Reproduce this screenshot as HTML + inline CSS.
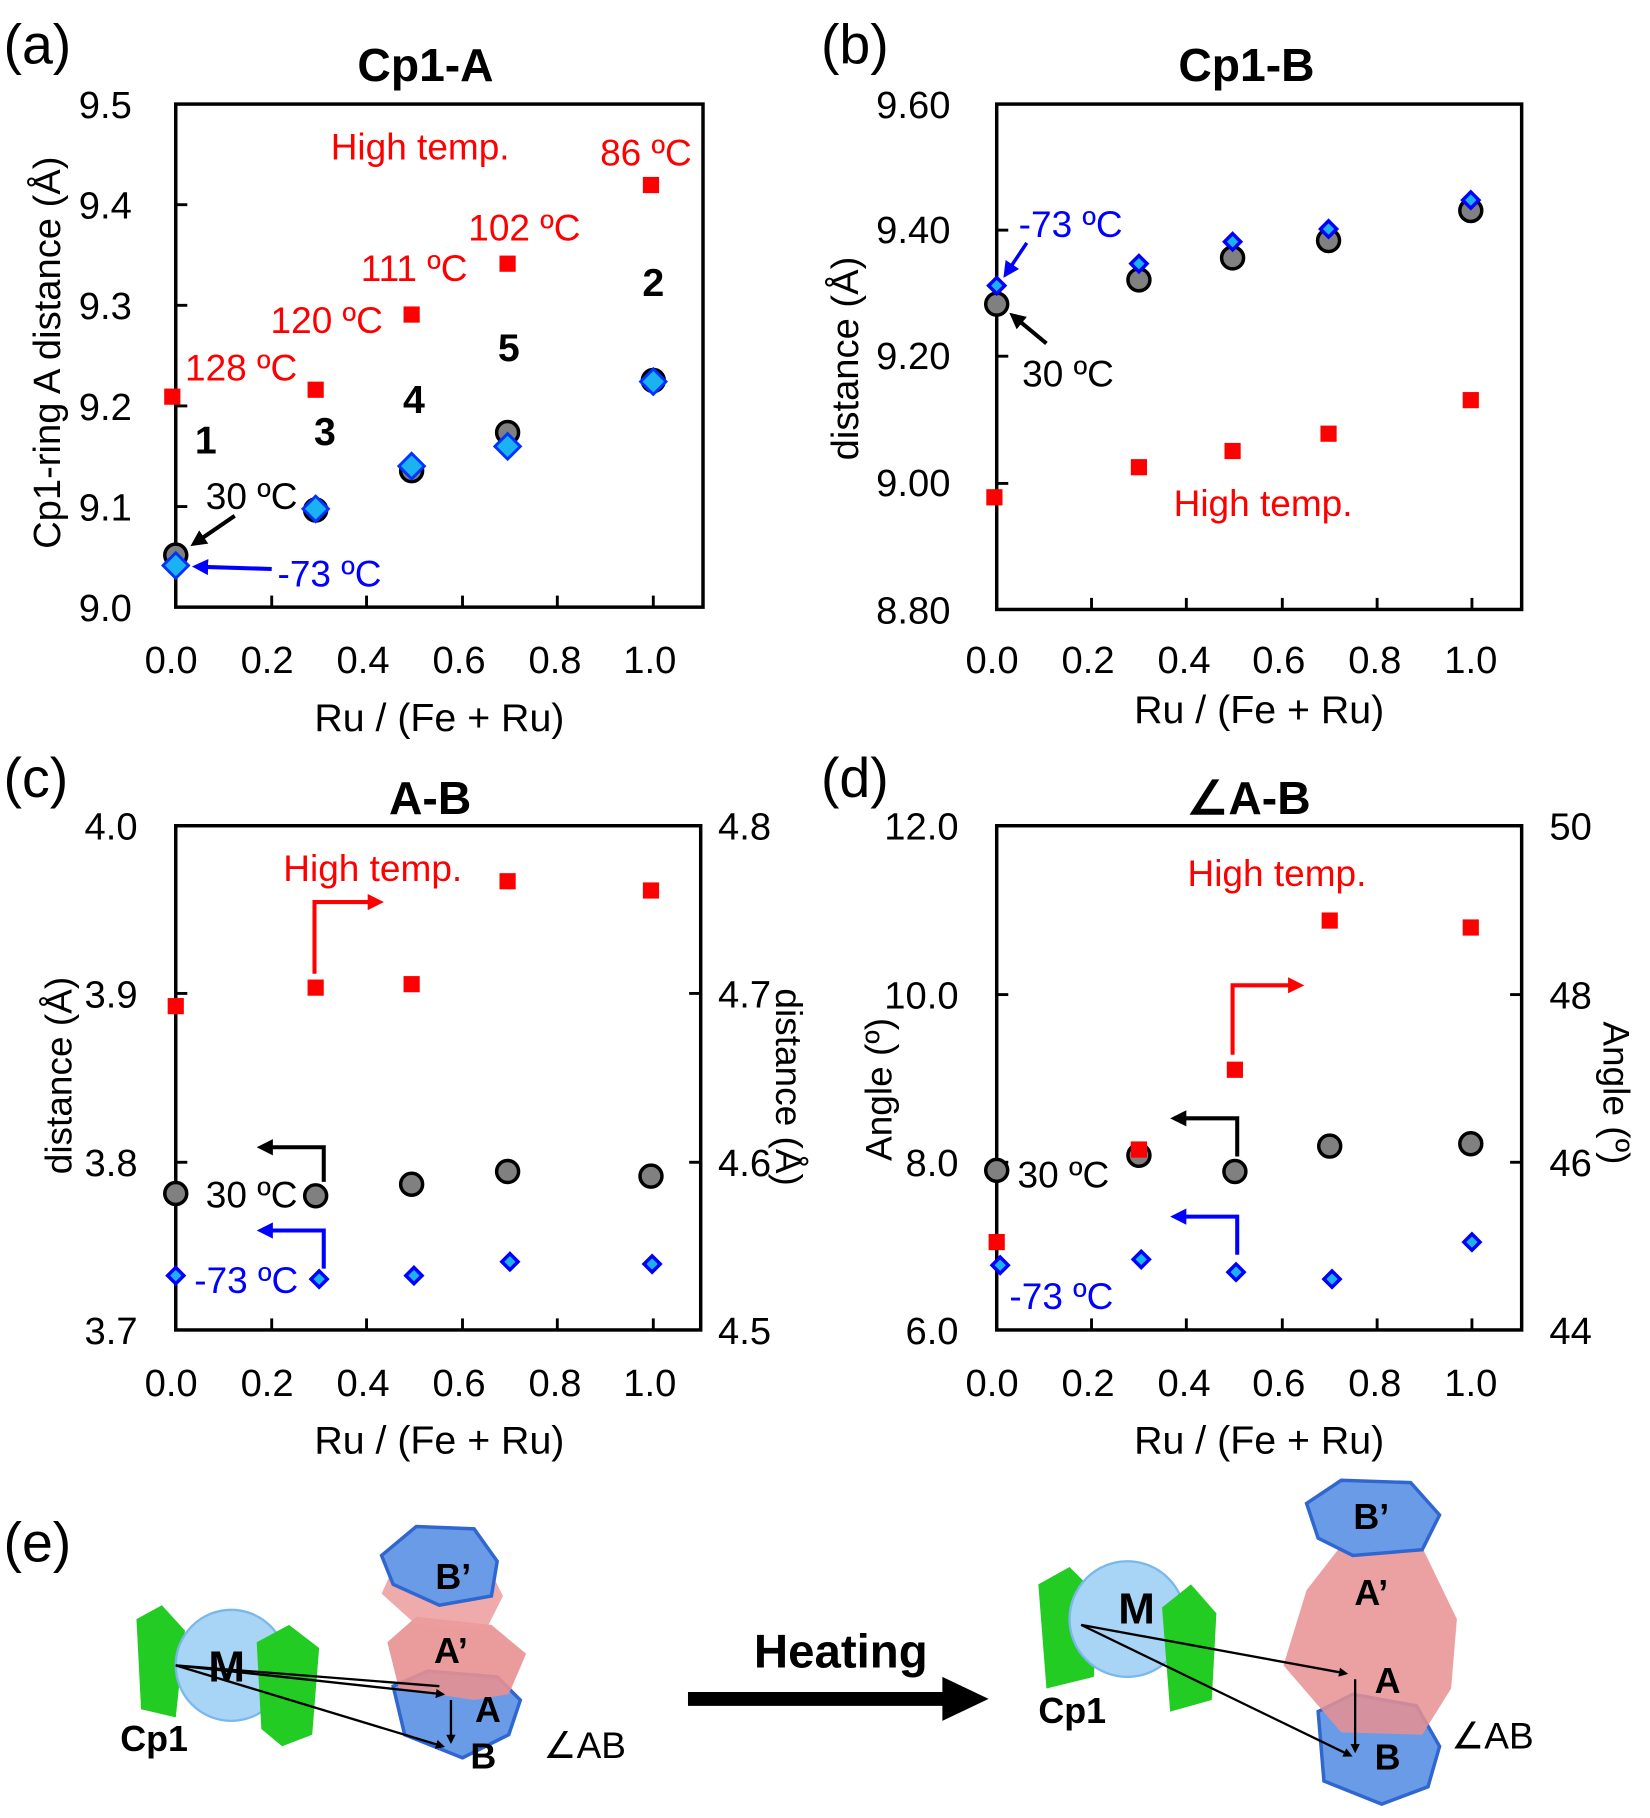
<!DOCTYPE html>
<html><head><meta charset="utf-8"><style>
html,body{margin:0;padding:0;background:#fff;}
svg{display:block;}
text{font-family:"Liberation Sans",Arial,sans-serif;}
</style></head><body>
<svg width="1650" height="1818" viewBox="0 0 1427 1572" preserveAspectRatio="none" xmlns="http://www.w3.org/2000/svg">
<defs>
<marker id="ak" markerWidth="8" markerHeight="8" refX="6" refY="4" orient="auto" markerUnits="userSpaceOnUse"><path d="M0,0 L8,4 L0,8 z" fill="#000"/></marker>
<marker id="ab" markerWidth="14" markerHeight="14" refX="10" refY="7" orient="auto" markerUnits="userSpaceOnUse"><path d="M0,0 L14,7 L0,14 z" fill="#0000ff"/></marker>
<marker id="abk" markerWidth="14" markerHeight="14" refX="10" refY="7" orient="auto" markerUnits="userSpaceOnUse"><path d="M0,0 L14,7 L0,14 z" fill="#000"/></marker>
<marker id="ar" markerWidth="14" markerHeight="14" refX="10" refY="7" orient="auto" markerUnits="userSpaceOnUse"><path d="M0,0 L14,7 L0,14 z" fill="#ff0000"/></marker>
<g id="sq"><rect x="-7" y="-7" width="14" height="14" fill="#ff0000"/></g>
<g id="ci"><circle r="9.5" fill="#808080" stroke="#000" stroke-width="3"/></g>
<g id="di"><path d="M0,-11 L11,0 L0,11 L-11,0 z" fill="#1ab2f0" stroke="#0033ff" stroke-width="2.5"/></g>
<g id="ds"><path d="M0,-7 L7,0 L0,7 L-7,0 z" fill="#1ab2f0" stroke="#0000ff" stroke-width="3"/></g>
</defs>

<!-- ===== Panel a ===== -->
<text x="3" y="55" font-size="48">(a)</text>
<text x="368" y="70" font-size="40" font-weight="bold" text-anchor="middle">Cp1-A</text>
<rect x="152" y="90" width="456" height="435" fill="none" stroke="#000" stroke-width="3"/>
<g stroke="#000" stroke-width="2.5">
<line x1="152" y1="177" x2="162" y2="177"/><line x1="152" y1="264" x2="162" y2="264"/><line x1="152" y1="351" x2="162" y2="351"/><line x1="152" y1="438" x2="162" y2="438"/>
<line x1="235" y1="525" x2="235" y2="515"/><line x1="317" y1="525" x2="317" y2="515"/><line x1="400" y1="525" x2="400" y2="515"/><line x1="482" y1="525" x2="482" y2="515"/><line x1="565" y1="525" x2="565" y2="515"/>
</g>
<g font-size="33" text-anchor="end">
<text x="114" y="102">9.5</text><text x="114" y="189">9.4</text><text x="114" y="276">9.3</text><text x="114" y="363">9.2</text><text x="114" y="450">9.1</text><text x="114" y="537">9.0</text>
</g>
<g font-size="33" text-anchor="middle">
<text x="148" y="582">0.0</text><text x="231" y="582">0.2</text><text x="314" y="582">0.4</text><text x="397" y="582">0.6</text><text x="480" y="582">0.8</text><text x="562" y="582">1.0</text>
</g>
<text x="380" y="632" font-size="34" text-anchor="middle">Ru / (Fe + Ru)</text>
<text transform="translate(52,305) rotate(-90)" font-size="33" text-anchor="middle">Cp1-ring A distance (Å)</text>
<use href="#sq" x="149" y="343"/><use href="#sq" x="273" y="337"/><use href="#sq" x="356" y="272"/><use href="#sq" x="439" y="228"/><use href="#sq" x="563" y="160"/>
<use href="#ci" x="152" y="480"/><use href="#ci" x="273" y="441"/><use href="#ci" x="356" y="407"/><use href="#ci" x="439" y="374"/><use href="#ci" x="565" y="329"/>
<use href="#di" x="152" y="489"/><use href="#di" x="273" y="440"/><use href="#di" x="356" y="403"/><use href="#di" x="439" y="386"/><use href="#di" x="565" y="330"/>
<g fill="#ff0000" font-size="32">
<text x="286" y="138">High temp.</text><text x="519" y="143">86 ºC</text><text x="405" y="208">102 ºC</text><text x="312" y="243">111 ºC</text><text x="234" y="288">120 ºC</text><text x="160" y="329">128 ºC</text>
</g>
<g font-size="34" font-weight="bold" text-anchor="middle">
<text x="178" y="392">1</text><text x="281" y="385">3</text><text x="358" y="357">4</text><text x="440" y="312">5</text><text x="565" y="256">2</text>
</g>
<text x="178" y="440" font-size="32">30 ºC</text>
<line x1="203" y1="446" x2="168" y2="470" stroke="#000" stroke-width="3.5" marker-end="url(#abk)"/>
<text x="240" y="507" font-size="32" fill="#0000ff">-73 ºC</text>
<line x1="235" y1="492" x2="170" y2="490" stroke="#0000ff" stroke-width="3.5" marker-end="url(#ab)"/>

<!-- ===== Panel b ===== -->
<text x="710" y="55" font-size="48">(b)</text>
<text x="1078" y="70" font-size="40" font-weight="bold" text-anchor="middle">Cp1-B</text>
<rect x="862" y="90" width="454" height="437" fill="none" stroke="#000" stroke-width="3"/>
<g stroke="#000" stroke-width="2.5">
<line x1="862" y1="199" x2="872" y2="199"/><line x1="862" y1="308" x2="872" y2="308"/><line x1="862" y1="418" x2="872" y2="418"/>
<line x1="944" y1="527" x2="944" y2="517"/><line x1="1026" y1="527" x2="1026" y2="517"/><line x1="1109" y1="527" x2="1109" y2="517"/><line x1="1191" y1="527" x2="1191" y2="517"/><line x1="1273" y1="527" x2="1273" y2="517"/>
</g>
<g font-size="33" text-anchor="end">
<text x="822" y="102">9.60</text><text x="822" y="210">9.40</text><text x="822" y="319">9.20</text><text x="822" y="429">9.00</text><text x="822" y="539">8.80</text>
</g>
<g font-size="33" text-anchor="middle">
<text x="858" y="582">0.0</text><text x="941" y="582">0.2</text><text x="1024" y="582">0.4</text><text x="1106" y="582">0.6</text><text x="1189" y="582">0.8</text><text x="1272" y="582">1.0</text>
</g>
<text x="1089" y="625" font-size="34" text-anchor="middle">Ru / (Fe + Ru)</text>
<text transform="translate(742,310) rotate(-90)" font-size="33" text-anchor="middle">distance (Å)</text>
<use href="#sq" x="860" y="430"/><use href="#sq" x="985" y="404"/><use href="#sq" x="1066" y="390"/><use href="#sq" x="1149" y="375"/><use href="#sq" x="1272" y="346"/>
<use href="#ci" x="862" y="263"/><use href="#ci" x="985" y="242"/><use href="#ci" x="1066" y="223"/><use href="#ci" x="1149" y="208"/><use href="#ci" x="1272" y="182"/>
<use href="#ds" x="862" y="247"/><use href="#ds" x="985" y="228"/><use href="#ds" x="1066" y="209"/><use href="#ds" x="1149" y="198"/><use href="#ds" x="1272" y="173"/>
<text x="881" y="205" font-size="32" fill="#0000ff">-73 ºC</text>
<line x1="888" y1="210" x2="870" y2="237" stroke="#0000ff" stroke-width="3" marker-end="url(#ab)"/>
<text x="884" y="334" font-size="32">30 ºC</text>
<line x1="905" y1="297" x2="876" y2="273" stroke="#000" stroke-width="3.5" marker-end="url(#abk)"/>
<text x="1015" y="446" font-size="32" fill="#ff0000">High temp.</text>

<!-- ===== Panel c ===== -->
<text x="3" y="689" font-size="48">(c)</text>
<text x="372" y="704" font-size="40" font-weight="bold" text-anchor="middle">A-B</text>
<rect x="152" y="714" width="454" height="436" fill="none" stroke="#000" stroke-width="3"/>
<g stroke="#000" stroke-width="2.5">
<line x1="152" y1="859" x2="162" y2="859"/><line x1="152" y1="1005" x2="162" y2="1005"/>
<line x1="606" y1="859" x2="596" y2="859"/><line x1="606" y1="1005" x2="596" y2="1005"/>
<line x1="235" y1="1150" x2="235" y2="1140"/><line x1="317" y1="1150" x2="317" y2="1140"/><line x1="400" y1="1150" x2="400" y2="1140"/><line x1="482" y1="1150" x2="482" y2="1140"/><line x1="565" y1="1150" x2="565" y2="1140"/>
</g>
<g font-size="33" text-anchor="end">
<text x="119" y="726">4.0</text><text x="119" y="871">3.9</text><text x="119" y="1017">3.8</text><text x="119" y="1162">3.7</text>
</g>
<g font-size="33">
<text x="621" y="726">4.8</text><text x="621" y="871">4.7</text><text x="621" y="1017">4.6</text><text x="621" y="1162">4.5</text>
</g>
<g font-size="33" text-anchor="middle">
<text x="148" y="1207">0.0</text><text x="231" y="1207">0.2</text><text x="314" y="1207">0.4</text><text x="397" y="1207">0.6</text><text x="480" y="1207">0.8</text><text x="562" y="1207">1.0</text>
</g>
<text x="380" y="1257" font-size="34" text-anchor="middle">Ru / (Fe + Ru)</text>
<text transform="translate(62,930) rotate(-90)" font-size="32" text-anchor="middle">distance (Å)</text>
<text transform="translate(671,940) rotate(90)" font-size="32" text-anchor="middle">distance (Å)</text>
<use href="#sq" x="152" y="870"/><use href="#sq" x="273" y="854"/><use href="#sq" x="356" y="851"/><use href="#sq" x="439" y="762"/><use href="#sq" x="563" y="770"/>
<use href="#ci" x="152" y="1032"/><use href="#ci" x="273" y="1034"/><use href="#ci" x="356" y="1024"/><use href="#ci" x="439" y="1013"/><use href="#ci" x="563" y="1017"/>
<use href="#ds" x="152" y="1103"/><use href="#ds" x="276" y="1106"/><use href="#ds" x="358" y="1103"/><use href="#ds" x="441" y="1091"/><use href="#ds" x="564" y="1093"/>
<text x="245" y="762" font-size="32" fill="#ff0000">High temp.</text>
<polyline points="272,842 272,780 328,780" fill="none" stroke="#ff0000" stroke-width="3.5" marker-end="url(#ar)"/>
<text x="178" y="1044" font-size="32">30 ºC</text>
<polyline points="280,1022 280,992 226,992" fill="none" stroke="#000" stroke-width="3.5" marker-end="url(#abk)"/>
<text x="168" y="1118" font-size="32" fill="#0000ff">-73 ºC</text>
<polyline points="280,1097 280,1064 226,1064" fill="none" stroke="#0000ff" stroke-width="3.5" marker-end="url(#ab)"/>

<!-- ===== Panel d ===== -->
<text x="710" y="689" font-size="48">(d)</text>
<text x="1080" y="704" font-size="40" font-weight="bold" text-anchor="middle">∠A-B</text>
<rect x="862" y="714" width="454" height="436" fill="none" stroke="#000" stroke-width="3"/>
<g stroke="#000" stroke-width="2.5">
<line x1="862" y1="860" x2="872" y2="860"/><line x1="862" y1="1005" x2="872" y2="1005"/>
<line x1="1316" y1="860" x2="1306" y2="860"/><line x1="1316" y1="1005" x2="1306" y2="1005"/>
<line x1="944" y1="1150" x2="944" y2="1140"/><line x1="1026" y1="1150" x2="1026" y2="1140"/><line x1="1109" y1="1150" x2="1109" y2="1140"/><line x1="1191" y1="1150" x2="1191" y2="1140"/><line x1="1273" y1="1150" x2="1273" y2="1140"/>
</g>
<g font-size="33" text-anchor="end">
<text x="829" y="726">12.0</text><text x="829" y="872">10.0</text><text x="829" y="1017">8.0</text><text x="829" y="1162">6.0</text>
</g>
<g font-size="33">
<text x="1340" y="726">50</text><text x="1340" y="872">48</text><text x="1340" y="1017">46</text><text x="1340" y="1162">44</text>
</g>
<g font-size="33" text-anchor="middle">
<text x="858" y="1207">0.0</text><text x="941" y="1207">0.2</text><text x="1024" y="1207">0.4</text><text x="1106" y="1207">0.6</text><text x="1189" y="1207">0.8</text><text x="1272" y="1207">1.0</text>
</g>
<text x="1089" y="1257" font-size="34" text-anchor="middle">Ru / (Fe + Ru)</text>
<text transform="translate(771,942) rotate(-90)" font-size="32" text-anchor="middle">Angle (º)</text>
<text transform="translate(1387,945) rotate(90)" font-size="32" text-anchor="middle">Angle (º)</text>
<use href="#sq" x="862" y="1074"/><use href="#sq" x="985" y="994"/><use href="#sq" x="1068" y="925"/><use href="#sq" x="1150" y="796"/><use href="#sq" x="1272" y="802"/>
<use href="#ci" x="862" y="1012"/><use href="#ci" x="985" y="999"/><use href="#ci" x="1068" y="1013"/><use href="#ci" x="1150" y="991"/><use href="#ci" x="1272" y="989"/>
<use href="#sq" x="985" y="994"/>
<use href="#ds" x="865" y="1094"/><use href="#ds" x="987" y="1089"/><use href="#ds" x="1069" y="1100"/><use href="#ds" x="1152" y="1106"/><use href="#ds" x="1273" y="1074"/>
<text x="1027" y="766" font-size="32" fill="#ff0000">High temp.</text>
<polyline points="1066,912 1066,852 1124,852" fill="none" stroke="#ff0000" stroke-width="3.5" marker-end="url(#ar)"/>
<text x="880" y="1027" font-size="32">30 ºC</text>
<polyline points="1070,1000 1070,967 1016,967" fill="none" stroke="#000" stroke-width="3.5" marker-end="url(#abk)"/>
<text x="873" y="1132" font-size="32" fill="#0000ff">-73 ºC</text>
<polyline points="1070,1085 1070,1052 1016,1052" fill="none" stroke="#0000ff" stroke-width="3.5" marker-end="url(#ab)"/>

<!-- ===== Panel e ===== -->
<text x="3" y="1350" font-size="48">(e)</text>
<polygon points="118,1400 140,1388 160,1410 152,1485 122,1478" fill="#22cc22"/>
<circle cx="200" cy="1440" r="48" fill="#a8d4f5" stroke="#7ab8ec" stroke-width="2"/>
<polygon points="222,1420 250,1405 276,1425 270,1500 244,1510 226,1495" fill="#22cc22"/>
<text x="196" y="1454" font-size="38" font-weight="bold" text-anchor="middle">M</text>
<text x="104" y="1514" font-size="31" font-weight="bold">Cp1</text>
<polygon points="340,1458 370,1445 430,1450 450,1470 440,1500 400,1520 350,1500" fill="#6a9be6" stroke="#2f66d0" stroke-width="3"/>
<polygon points="335,1420 360,1398 425,1405 455,1430 440,1465 410,1470 345,1460" fill="#e89090" opacity="0.9"/>
<polygon points="330,1378 345,1345 385,1335 420,1350 435,1380 420,1410 360,1405" fill="#ec9c9c" opacity="0.85"/>
<polygon points="330,1345 360,1320 410,1322 430,1350 425,1380 380,1388 340,1370" fill="#6a9be6" stroke="#2f66d0" stroke-width="3"/>
<text x="392" y="1374" font-size="31" font-weight="bold" text-anchor="middle">B’</text>
<text x="390" y="1438" font-size="31" font-weight="bold" text-anchor="middle">A’</text>
<text x="422" y="1489" font-size="31" font-weight="bold" text-anchor="middle">A</text>
<text x="418" y="1529" font-size="31" font-weight="bold" text-anchor="middle">B</text>
<text x="470" y="1520" font-size="32">∠AB</text>
<line x1="152" y1="1440" x2="383" y2="1465" stroke="#000" stroke-width="2" marker-end="url(#ak)"/>
<line x1="152" y1="1440" x2="383" y2="1510" stroke="#000" stroke-width="2" marker-end="url(#ak)"/>
<line x1="152" y1="1440" x2="380" y2="1458" stroke="#000" stroke-width="2"/>
<line x1="390" y1="1470" x2="390" y2="1506" stroke="#000" stroke-width="2" marker-end="url(#ak)"/>
<text x="652" y="1442" font-size="41" font-weight="bold">Heating</text>
<line x1="595" y1="1469" x2="820" y2="1469" stroke="#000" stroke-width="12"/>
<polygon points="815,1450 855,1469 815,1488" fill="#000"/>
<polygon points="898,1370 925,1355 950,1380 946,1450 905,1460" fill="#22cc22"/>
<circle cx="975" cy="1400" r="50" fill="#a8d4f5" stroke="#7ab8ec" stroke-width="2"/>
<polygon points="1005,1390 1030,1370 1052,1395 1048,1470 1012,1480" fill="#22cc22"/>
<text x="983" y="1404" font-size="38" font-weight="bold" text-anchor="middle">M</text>
<text x="898" y="1490" font-size="31" font-weight="bold">Cp1</text>
<polygon points="1140,1480 1170,1465 1225,1475 1245,1510 1235,1545 1195,1560 1145,1540" fill="#6a9be6" stroke="#2f66d0" stroke-width="3"/>
<polygon points="1110,1440 1130,1375 1165,1330 1230,1338 1260,1400 1255,1460 1230,1500 1160,1498" fill="#e89090" opacity="0.85"/>
<polygon points="1130,1300 1160,1280 1220,1282 1245,1310 1230,1340 1170,1345 1140,1330" fill="#6a9be6" stroke="#2f66d0" stroke-width="3"/>
<text x="1186" y="1322" font-size="31" font-weight="bold" text-anchor="middle">B’</text>
<text x="1186" y="1388" font-size="31" font-weight="bold" text-anchor="middle">A’</text>
<text x="1200" y="1464" font-size="31" font-weight="bold" text-anchor="middle">A</text>
<text x="1200" y="1530" font-size="31" font-weight="bold" text-anchor="middle">B</text>
<text x="1255" y="1512" font-size="32">∠AB</text>
<line x1="935" y1="1405" x2="1164" y2="1447" stroke="#000" stroke-width="2" marker-end="url(#ak)"/>
<line x1="935" y1="1405" x2="1168" y2="1518" stroke="#000" stroke-width="2" marker-end="url(#ak)"/>
<line x1="1172" y1="1452" x2="1172" y2="1514" stroke="#000" stroke-width="2" marker-end="url(#ak)"/>
</svg>
</body></html>
